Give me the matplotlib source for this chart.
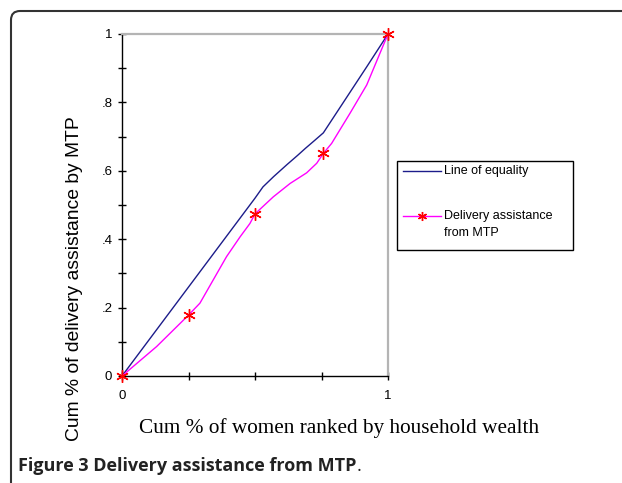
import matplotlib
matplotlib.use("Agg")
import matplotlib.pyplot as plt
from matplotlib.patches import FancyBboxPatch, Rectangle
from matplotlib.lines import Line2D
from matplotlib.transforms import IdentityTransform

# concentration curves
eq_x = [0, 0.25, 0.5, 0.53, 0.57, 0.62, 0.66, 0.69, 0.72, 0.757, 0.92, 1]
eq_y = [0, 0.26, 0.52, 0.553, 0.583, 0.618, 0.645, 0.666, 0.686, 0.711, 0.904, 1]

mtp_x = [0, 0.13, 0.25, 0.293, 0.343, 0.393, 0.444, 0.481, 0.5, 0.569, 0.632, 0.694,
         0.732, 0.757, 0.788, 0.857, 0.92, 1]
mtp_y = [0, 0.086, 0.178, 0.213, 0.281, 0.349, 0.407, 0.446, 0.474, 0.524, 0.563, 0.594,
         0.622, 0.651, 0.68, 0.768, 0.851, 1]
mtp_marks = [0, 2, 8, 13, 17]

x_ticks = [0, 0.25, 0.5, 0.75, 1]
x_ticklabels = ["0", "", "", "", "1"]
y_ticks = [0, 0.2, 0.4, 0.6, 0.8, 1]
y_ticklabels = ["0", ".2", ".4", ".6", ".8", "1"]
y_minor = [0.1, 0.3, 0.5, 0.7, 0.9]

eq_color = "#1c1c8a"
mtp_color = "#ff00ff"
star = (6, 2, 0)

plt.rcParams["font.family"] = ["Liberation Sans", "DejaVu Sans"]

W, H = 622, 483
fig = plt.figure(figsize=(W / 100, H / 100), dpi=100)
ax = fig.add_axes([122 / W, 1 - 376 / H, 266 / W, 342 / H])

ax.plot(eq_x, eq_y, color=eq_color, lw=1.0)
ax.plot(mtp_x, mtp_y, color=mtp_color, lw=1.0, marker=star, markersize=9,
        markeredgecolor="#ff0000", markeredgewidth=1.0, markevery=mtp_marks,
        clip_on=False, zorder=3)

ax.set_xlim(0, 1)
ax.set_ylim(0, 1)
ax.set_xticks(x_ticks)
ax.set_xticklabels(x_ticklabels)
ax.set_yticks(y_ticks)
ax.set_yticklabels(y_ticklabels)
ax.set_yticks(y_minor, minor=True)
ax.tick_params(which="both", direction="inout", length=6, width=1, labelsize=9.5,
               color="black")
ax.tick_params(axis="y", pad=4)
ax.tick_params(axis="x", pad=7)

for s in ["left", "bottom"]:
    ax.spines[s].set_color("black")
    ax.spines[s].set_linewidth(1.0)
for s in ["top", "right"]:
    ax.spines[s].set_color("#b4b4b4")
    ax.spines[s].set_linewidth(1.6)

# legend box drawn by hand (handle sits on the first line of the 2-line label)
def fx(px):
    return px / W

def fy(py):
    return 1 - py / H

fig.add_artist(Rectangle((fx(397), fy(250)), fx(176), 89 / H, transform=fig.transFigure,
                         fill=True, facecolor="white", edgecolor="black", lw=1.0))
fig.add_artist(Line2D([fx(403), fx(441)], [fy(171), fy(171)], color=eq_color, lw=1.0,
                      transform=fig.transFigure))
fig.text(fx(444), fy(171), "Line of equality", fontsize=9, va="center", ha="left")
fig.add_artist(Line2D([fx(403), fx(441)], [fy(216), fy(216)], color=mtp_color, lw=1.0,
                      transform=fig.transFigure))
fig.add_artist(Line2D([fx(422)], [fy(216)], marker=star, markersize=6.5,
                      markeredgecolor="#ff0000", markeredgewidth=1.0, linestyle="none",
                      transform=fig.transFigure))
fig.text(fx(444), fy(216), "Delivery assistance", fontsize=9, va="center", ha="left")
fig.text(fx(444), fy(233), "from MTP", fontsize=9, va="center", ha="left")

fig.text(fx(75), fy(278.5), "Cum % of delivery assistance by MTP", rotation=90,
         ha="center", va="center", fontsize=13.9)
fig.text(fx(339), fy(428), "Cum % of women ranked by household wealth",
         ha="center", va="center", fontsize=15.3, family="Liberation Serif")
cap = fig.text(fx(18), fy(466), "Figure 3 Delivery assistance from MTP",
               ha="left", va="center", fontsize=13, family="Open Sans", weight="bold",
               color="#222222")
fig.canvas.draw()
bb = cap.get_window_extent()
fig.text(bb.x1 / W, fy(466), ".", ha="left", va="center", fontsize=13,
         family="Open Sans", color="#222222")

frame = FancyBboxPatch((11, -60), 700, 472 + 60, boxstyle="round,pad=0,rounding_size=9",
                       transform=IdentityTransform(), fill=False, edgecolor="#333333",
                       linewidth=1.5)
fig.add_artist(frame)

fig.savefig("out.png", dpi=100)
